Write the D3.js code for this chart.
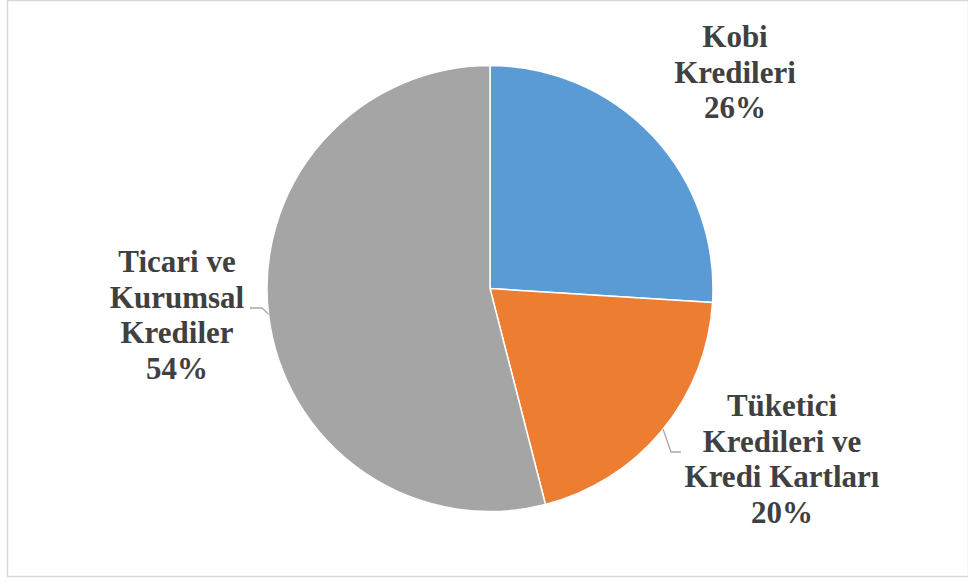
<!DOCTYPE html>
<html>
<head>
<meta charset="utf-8">
<script src="https://cdn.jsdelivr.net/npm/d3@7"></script>
<style>
  html, body { margin: 0; padding: 0; background: #fff; }
  svg { display: block; }
</style>
</head>
<body>
<svg id="chart" width="968" height="581"></svg>
<script>
const categories = ["Kobi Kredileri", "Tüketici Kredileri ve Kredi Kartları", "Ticari ve Kurumsal Krediler"];
const values = [26, 20, 54];
const colors = ["#5B9BD5", "#ED7D31", "#A5A5A5"];
const labelLines = [
  ["Kobi", "Kredileri", "26%"],
  ["Tüketici", "Kredileri ve", "Kredi Kartları", "20%"],
  ["Ticari ve", "Kurumsal", "Krediler", "54%"]
];

const svg = d3.select("#chart");
const W = 968, H = 581;

svg.append("rect")
  .attr("x", 7.5).attr("y", 0.5)
  .attr("width", W - 7).attr("height", 576)
  .attr("fill", "#fff")
  .attr("stroke", "#d9d9d9")
  .attr("stroke-width", 1.5);

const cx = 490, cy = 288.5, r = 223;
const g = svg.append("g").attr("transform", `translate(${cx},${cy})`);

const pie = d3.pie().sort(null).value(d => d)(values);
const arc = d3.arc().innerRadius(0).outerRadius(r);

g.selectAll("path.slice")
  .data(pie)
  .join("path")
  .attr("class", "slice")
  .attr("d", arc)
  .attr("fill", (d, i) => colors[i])
  .attr("stroke", "#fff")
  .attr("stroke-width", 1.5);

const labelPos = [
  { x: 735, y: 47 },
  { x: 782, y: 416 },
  { x: 177, y: 272 }
];
const pitch = 35.5;

labelLines.forEach((lines, i) => {
  const t = svg.append("text")
    .attr("text-anchor", "middle")
    .style("font-family", '"Liberation Serif"')
    .style("font-weight", "bold")
    .style("font-size", "31px")
    .style("fill", "#404040");
  lines.forEach((ln, j) => {
    t.append("tspan")
      .attr("x", labelPos[i].x)
      .attr("y", labelPos[i].y + j * pitch)
      .text(ln);
  });
});

function edge(a) { return [cx + r * Math.sin(a), cy - r * Math.cos(a)]; }
const deg = Math.PI / 180;
const leaders = [
  { a: 129.1 * deg, pts: [[671, 452], [681, 452]] },
  { a: 263.4 * deg, pts: [[262, 308], [250, 308]] }
];
leaders.forEach(l => {
  const p = [edge(l.a), ...l.pts];
  svg.append("polyline")
    .attr("points", p.map(q => q.join(",")).join(" "))
    .attr("fill", "none")
    .attr("stroke", "#a6a6a6")
    .attr("stroke-width", 1.3);
});
</script>
</body>
</html>
